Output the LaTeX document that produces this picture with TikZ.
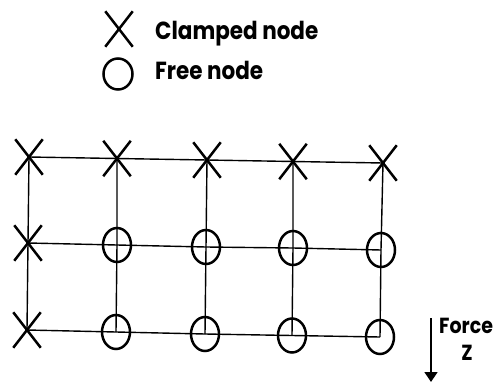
\documentclass[tikz,border=0pt]{standalone}
\usepackage{fontspec}
\setmainfont{Poppins}
\usetikzlibrary{shapes.misc,shapes.geometric,arrows.meta}
\newcommand{\tallt}[1]{\scalebox{1}[1.15]{#1}}
\tikzset{
  clamped/.style={cross out, draw, line width=2.5pt, minimum width=25pt, minimum height=33pt, inner sep=0pt},
  freenode/.style={ellipse, draw, line width=2.5pt, minimum width=28pt, minimum height=34pt, inner sep=0pt},
  grid/.style={line width=1.4pt},
  label/.style={inner sep=0pt, font=\fontsize{21.5}{24}\selectfont\bfseries},
  flabel/.style={inner sep=0pt, font=\fontsize{19}{22}\selectfont\bfseries},
}
\begin{document}
\begin{tikzpicture}[x=1pt,y=-1pt]
\useasboundingbox (0,0) rectangle (496,383);
% legend
\node[clamped] (lx) at (119,29) {};
\node[label, anchor=base west] (lxt) at (155,39) {\tallt{Clamped node}};
\node[freenode, minimum width=29pt, minimum height=31pt] (lo) at (118,74) {};
\node[label, anchor=base west] (lot) at (155,79) {\tallt{Free node}};
% grid nodes
\node[clamped] (a1) at (29,157) {};
\node[clamped] (a2) at (117,158.5) {};
\node[clamped] (a3) at (207,160) {};
\node[clamped] (a4) at (293,161.5) {};
\node[clamped] (a5) at (383,163) {};
\node[clamped] (b1) at (28,243) {};
\node[freenode] (b2) at (117,245) {};
\node[freenode] (b3) at (206,247) {};
\node[freenode] (b4) at (293,248) {};
\node[freenode] (b5) at (381,250) {};
\node[clamped] (c1) at (27,330) {};
\node[freenode] (c2) at (116,332) {};
\node[freenode] (c3) at (205,334) {};
\node[freenode] (c4) at (292,335.5) {};
\node[freenode] (c5) at (380,337) {};
% connectors
\foreach \r in {a,b,c}{
  \draw[grid] (\r1.center) -- (\r2.center) -- (\r3.center) -- (\r4.center) -- (\r5.center);
}
\foreach \k in {1,...,5}{
  \draw[grid] (a\k.center) -- (b\k.center) -- (c\k.center);
}
% force
\coordinate (fa) at (431,318);
\coordinate (fb) at (431,382);
\draw[line width=1.4pt, -{Triangle[width=13pt,length=10pt]}] (fa) -- (fb);
\node[flabel, anchor=base west] (ft) at (439,333) {\tallt{Force}};
\node[flabel, anchor=base] (fz) at (467,360) {\tallt{Z}};
\end{tikzpicture}
\end{document}
